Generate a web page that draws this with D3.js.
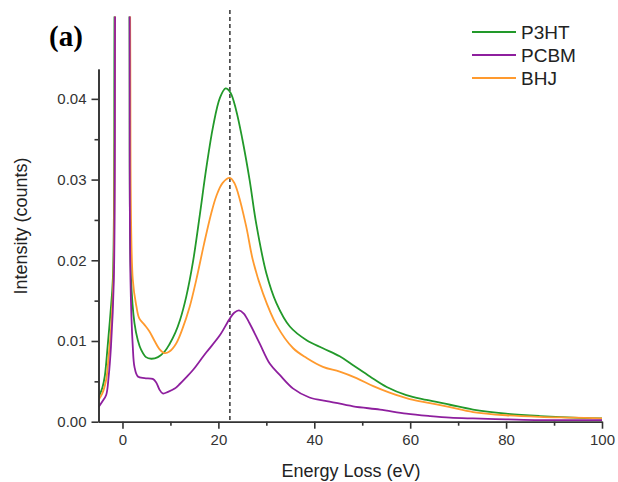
<!DOCTYPE html>
<html><head><meta charset="utf-8">
<script src="https://cdn.jsdelivr.net/npm/d3@7"></script>
<style>
body{margin:0;background:#fff;}
svg{display:block;font-family:"Liberation Sans",Arial,sans-serif;}
</style></head>
<body>
<svg id="chart" width="618" height="482"></svg>
<script>
// ---- data (Energy loss eV, intensity counts) ----
const seriesNames = ["P3HT", "PCBM", "BHJ"];
const seriesColors = ["#22992a", "#8e1f9e", "#ff9a2e"];

const p3htData = [[-5,0.0030],[-4.2,0.0042],[-3.7,0.0056],[-3.1,0.0093],[-2.5,0.0135],[-2.0,0.0178],[-1.67,0.05],[-1.4,0.3],[0,1.0],[1.2,0.3],[1.46,0.05],[1.8,0.0176],[2.5,0.0122],[3.2,0.0101],[3.9,0.0089],[4.9,0.0080],[6.0,0.0078],[7.4,0.0080],[8.8,0.0087],[9.8,0.0096],[11.0,0.0110],[12.0,0.0126],[13.3,0.0155],[14.7,0.0198],[16.1,0.0255],[17.5,0.0315],[18.9,0.0366],[20.3,0.0401],[21.5,0.0413],[22.5,0.0408],[23.7,0.0386],[25.0,0.0350],[26.5,0.0300],[27.9,0.0245],[30.0,0.0184],[32.1,0.0147],[34.9,0.0118],[38.4,0.0101],[41.8,0.0091],[45.3,0.0081],[48.1,0.0070],[51.6,0.0056],[55.1,0.0043],[59.2,0.0033],[63.4,0.0027],[68.3,0.0021],[73.1,0.0015],[80,0.0010],[87,0.0007],[94,0.0005],[100,0.0004]];

const pcbmData = [[-5,0.0018],[-4.2,0.0025],[-3.4,0.0033],[-2.9,0.0055],[-2.4,0.0093],[-1.8,0.0176],[-1.55,0.05],[-1.3,0.3],[0,1.0],[1.3,0.3],[1.5,0.05],[1.67,0.0176],[2.15,0.0093],[2.5,0.0068],[3.2,0.0056],[4.6,0.0054],[6.3,0.0053],[7.0,0.0049],[7.7,0.0040],[8.4,0.0035],[9.5,0.0037],[10.9,0.0041],[12.0,0.0047],[13.3,0.0055],[14.7,0.0064],[16.1,0.0075],[17.5,0.0086],[20.3,0.0107],[22.3,0.0127],[23.3,0.0135],[24.3,0.0138],[25.3,0.0134],[26.5,0.0122],[28.6,0.0097],[30.7,0.0072],[32.8,0.0058],[35.6,0.0041],[39.0,0.0030],[43.2,0.0025],[48.1,0.0019],[53.7,0.0015],[59.2,0.0010],[64.1,0.0007],[68.3,0.0005],[73.1,0.0004],[80,0.0003],[87,0.0002],[100,0.0002]];

const bhjData = [[-5,0.0027],[-4.2,0.0035],[-3.4,0.0052],[-2.9,0.0080],[-2.4,0.0114],[-1.9,0.0176],[-1.55,0.05],[-1.3,0.3],[0,1.0],[1.3,0.3],[1.6,0.05],[2.15,0.0176],[2.9,0.0143],[3.5,0.0128],[4.6,0.0120],[5.6,0.0112],[6.7,0.0100],[7.7,0.0090],[8.8,0.0085],[9.8,0.0087],[11.2,0.0097],[12.5,0.0115],[14.0,0.0142],[15.4,0.0176],[17.0,0.0220],[18.5,0.0258],[19.6,0.0280],[20.9,0.0296],[22.4,0.0302],[23.3,0.0296],[24.1,0.0283],[25.8,0.0242],[27.2,0.0200],[29.3,0.0159],[32.1,0.0120],[35.6,0.0091],[38.4,0.0079],[41.8,0.0068],[45.3,0.0062],[48.8,0.0054],[52.3,0.0044],[55.7,0.0036],[59.9,0.0028],[64.1,0.0023],[68.3,0.0018],[73.1,0.0012],[80,0.0008],[87,0.0006],[94,0.0005],[100,0.0004]];

const xMajorTicks = [0, 20, 40, 60, 80, 100];
const xMinorTicks = [10, 30, 50, 70, 90];
const yMajorTicks = [0, 0.01, 0.02, 0.03, 0.04];
const yMinorTicks = [0.005, 0.015, 0.025, 0.035];
const markerEnergy = 22.4;
const xDomain = [-5, 100];
const yDomain = [0, 0.0437];
const panelLabel = "(a)";
const xTitle = "Energy Loss (eV)";
const yTitle = "Intensity (counts)";

// ---- drawing ----
const svg = d3.select("#chart");
const x = d3.scaleLinear().domain(xDomain).range([98.5, 602]);
const y = d3.scaleLinear().domain(yDomain).range([421.7, 69]);
const axisColor = "#333";

svg.append("defs").append("clipPath").attr("id","clip")
  .append("rect").attr("x", 98.5).attr("y", 16.5).attr("width", 504).attr("height", 406);

// dashed marker
svg.append("line")
  .attr("x1", x(markerEnergy)).attr("x2", x(markerEnergy))
  .attr("y1", 10).attr("y2", y(0))
  .attr("stroke", "#333").attr("stroke-width", 1.5).attr("stroke-dasharray", "4,3");

const line = d3.line().x(d => x(d[0])).y(d => y(d[1])).curve(d3.curveCatmullRom.alpha(0.5));
const allData = [p3htData, bhjData, pcbmData];
const colorsByOrder = [seriesColors[0], seriesColors[2], seriesColors[1]];
const g = svg.append("g").attr("clip-path", "url(#clip)");
allData.forEach((d, i) => {
  g.append("path").datum(d).attr("d", line)
    .attr("fill", "none").attr("stroke", colorsByOrder[i])
    .attr("stroke-width", 1.8).attr("stroke-linejoin", "round");
});

// axes
function styleAxis(sel){
  sel.selectAll("path,line").attr("stroke", axisColor).attr("stroke-width", 1.6);
  sel.selectAll("text").attr("fill", "#333").style("font-size", "15px")
     .style("font-family", "'Liberation Sans',Arial,sans-serif");
}
const xAxis = svg.append("g").attr("transform", `translate(0,${y(0)})`)
  .call(d3.axisBottom(x).tickValues(xMajorTicks).tickSize(7).tickSizeOuter(0).tickPadding(6).tickFormat(d3.format("d")));
styleAxis(xAxis);
const xAxisMinor = svg.append("g").attr("transform", `translate(0,${y(0)})`)
  .call(d3.axisBottom(x).tickValues(xMinorTicks).tickSize(4).tickSizeOuter(0).tickFormat(""));
styleAxis(xAxisMinor);

const yAxis = svg.append("g").attr("transform", `translate(${x(-5)},0)`)
  .call(d3.axisLeft(y).tickValues(yMajorTicks).tickSize(7).tickSizeOuter(0).tickPadding(5).tickFormat(d3.format(".2f")));
styleAxis(yAxis);
const yAxisMinor = svg.append("g").attr("transform", `translate(${x(-5)},0)`)
  .call(d3.axisLeft(y).tickValues(yMinorTicks).tickSize(4).tickSizeOuter(0).tickFormat(""));
styleAxis(yAxisMinor);

// titles
svg.append("text").attr("x", 351).attr("y", 477).attr("text-anchor", "middle")
  .style("font-size", "18px").attr("fill", "#222").text(xTitle);
svg.append("text").attr("transform", "translate(27,226) rotate(-90)").attr("text-anchor", "middle")
  .style("font-size", "18px").attr("fill", "#222").text(yTitle);
svg.append("text").attr("x", 49).attr("y", 46)
  .style("font-family", "'Liberation Serif','Times New Roman',serif").style("font-weight", "bold")
  .style("font-size", "29px").attr("fill", "#000").text(panelLabel);

// legend
const legendY = [32, 55, 78];
seriesNames.forEach((name, i) => {
  svg.append("line").attr("x1", 472).attr("x2", 516).attr("y1", legendY[i]).attr("y2", legendY[i])
    .attr("stroke", seriesColors[i]).attr("stroke-width", 2);
  svg.append("text").attr("x", 521).attr("y", legendY[i] + 7)
    .style("font-size", "19px").attr("fill", "#222").text(name);
});
</script>
</body></html>
